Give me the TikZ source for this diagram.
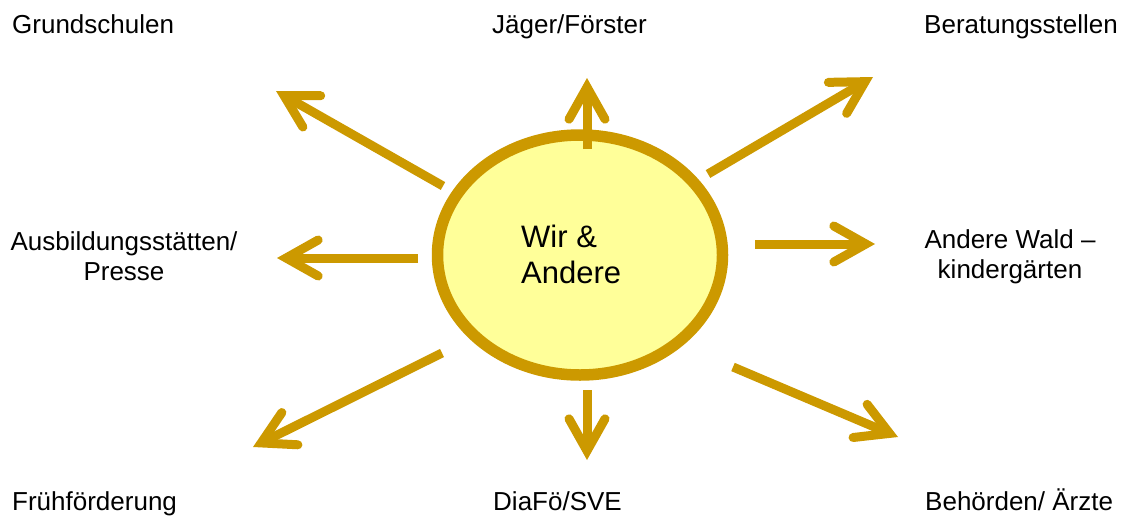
\documentclass[tikz,border=0pt]{standalone}
\usepackage{fontspec}
\setmainfont{Liberation Sans}
\usetikzlibrary{arrows.meta,shapes.geometric}
\definecolor{gold}{HTML}{CC9900}
\definecolor{lightyel}{HTML}{FFFF99}
\begin{document}
\begin{tikzpicture}[x=1pt,y=-1pt,
  lbl/.style={font=\fontsize{26}{30}\selectfont, inner sep=0pt, align=center},
  ray/.style={draw=gold, line width=9pt, line cap=butt,
    -{Straight Barb[length=32pt,width=36pt,line cap=round,line join=miter]}}]
\useasboundingbox (0,0) rectangle (1124,517);
% central ellipse
\node[ellipse, draw=gold, fill=lightyel, line width=11.5pt, inner sep=0pt,
  minimum width=285pt, minimum height=240pt] (c) at (580,255) {};
\node[font=\fontsize{31}{36}\selectfont, align=left, inner sep=0pt, anchor=base west] (ct) at (521,283) {Wir \&\\Andere};
% labels
\node[lbl, anchor=base west] (l1) at (12,33) {Grundschulen};
\node[lbl, anchor=base west] (l2) at (492,33) {Jäger/Förster};
\node[lbl, anchor=base west] (l3) at (924,33) {Beratungsstellen};
\node[lbl, anchor=base] (l4) at (124,280) {Ausbildungsstätten/\\Presse};
\node[lbl, anchor=base] (l5) at (1010,278) {Andere Wald –\\kindergärten};
\node[lbl, anchor=base west] (l6) at (12,510) {Frühförderung};
\node[lbl, anchor=base west] (l7) at (493,510) {DiaFö/SVE};
\node[lbl, anchor=base west] (l8) at (925,510) {Behörden/ Ärzte};
% arrow end points
\coordinate (s1) at (443,186); \coordinate (t1) at (276,91);
\coordinate (s2) at (587,149); \coordinate (t2) at (587,78);
\coordinate (s3) at (708,174); \coordinate (t3) at (873,77);
\coordinate (s4) at (418,258); \coordinate (t4) at (277,258);
\coordinate (s5) at (755,244); \coordinate (t5) at (875,244);
\coordinate (s6) at (442,353); \coordinate (t6) at (253,447);
\coordinate (s7) at (587,390); \coordinate (t7) at (587,460);
\coordinate (s8) at (733,367); \coordinate (t8) at (898,437);
\foreach \i in {1,...,8} \draw[ray] (s\i) -- (t\i);
\end{tikzpicture}
\end{document}
